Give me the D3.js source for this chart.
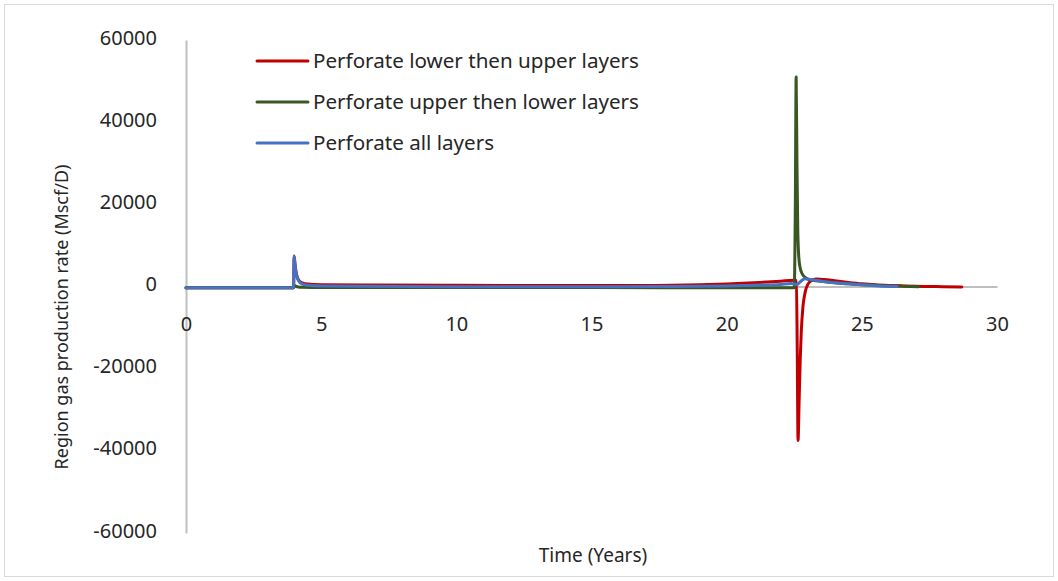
<!DOCTYPE html>
<html>
<head>
<meta charset="utf-8">
<script src="https://cdn.jsdelivr.net/npm/d3@7"></script>
<style>
  html, body { margin: 0; padding: 0; background: #fff; }
  svg { display: block; font-family: "Noto Sans", "Open Sans", sans-serif; }
</style>
</head>
<body>
<svg id="chart" width="1058" height="581"></svg>
<script>
// ---- data ----
const seriesNames = ["Perforate lower then upper layers", "Perforate upper then lower layers", "Perforate all layers"];
const seriesColors = ["#c00000", "#385723", "#4472c4"];

const lowerThenUpperT = [0, 3.98, 4.0, 4.03, 4.07, 4.12, 4.2, 4.3, 4.5, 5, 7, 10, 13, 16, 18, 19, 20, 21, 22, 22.5, 22.58, 22.61, 22.64, 22.68, 22.72, 22.76, 22.82, 22.9, 23.0, 23.15, 23.35, 23.6, 24, 24.5, 25, 25.5, 26, 26.5, 27, 27.5, 28, 28.7];
const lowerThenUpperV = [-300, -300, 7400, 5600, 3600, 2200, 1300, 900, 600, 450, 350, 300, 250, 250, 300, 400, 600, 900, 1300, 1500, 1400, -15000, -37500, -28000, -18000, -11000, -5000, -1500, 500, 1500, 1800, 1700, 1400, 1000, 650, 400, 250, 150, 50, 0, -50, -100];

const upperThenLowerT = [0, 3.98, 4.0, 4.05, 4.15, 4.3, 5, 10, 15, 20, 22, 22.5, 22.54, 22.57, 22.6, 22.63, 22.67, 22.72, 22.8, 22.95, 23.1, 23.3, 23.6, 24, 24.5, 25, 25.5, 26, 26.5, 27.1];
const upperThenLowerV = [-300, -300, 300, 100, -100, -200, -250, -250, -250, -300, -300, -300, 20000, 51000, 30000, 14000, 7000, 4500, 3000, 2000, 1600, 1400, 1200, 900, 650, 450, 300, 150, 50, -50];

const allLayersT = [0, 3.98, 4.0, 4.03, 4.07, 4.12, 4.2, 4.3, 4.5, 5, 8, 12, 16, 18, 20, 21, 22, 22.4, 22.5, 22.6, 22.7, 22.8, 22.9, 23.0, 23.2, 23.5, 24, 24.5, 25, 25.5, 26, 26.3];
const allLayersV = [-300, -300, 7300, 5400, 3300, 2000, 1100, 600, 300, 100, 0, -50, -50, 0, 150, 300, 500, 700, 600, 500, 1000, 1600, 1900, 1800, 1600, 1300, 900, 650, 400, 200, 50, 0];

const xTicks = [0, 5, 10, 15, 20, 25, 30];
const yTicks = [-60000, -40000, -20000, 0, 20000, 40000, 60000];
const xTitle = "Time (Years)";
const yTitle = "Region gas production rate (Mscf/D)";

// ---- build ----
const series = [
  { name: seriesNames[0], color: seriesColors[0], pts: lowerThenUpperT.map((t, i) => ({ t, v: lowerThenUpperV[i] })) },
  { name: seriesNames[1], color: seriesColors[1], pts: upperThenLowerT.map((t, i) => ({ t, v: upperThenLowerV[i] })) },
  { name: seriesNames[2], color: seriesColors[2], pts: allLayersT.map((t, i) => ({ t, v: allLayersV[i] })) }
];

const svg = d3.select("#chart");

// chart frame
svg.append("rect")
  .attr("x", 4.5).attr("y", 4.5).attr("width", 1049).attr("height", 572)
  .attr("fill", "#fff").attr("stroke", "#d9d9d9").attr("stroke-width", 1);

const x = d3.scaleLinear().domain([0, 30]).range([186, 997]);
const y = d3.scaleLinear().domain([-60000, 60000]).range([533, 40]);

const axisColor = "#bfbfbf";
const textColor = "#262626";
const fmt = d => String(d);

// y axis
const gy = svg.append("g").attr("transform", `translate(${x(0)},0)`)
  .call(d3.axisLeft(y).tickValues(yTicks).tickSize(0).tickSizeOuter(0).tickPadding(29).tickFormat(fmt));
gy.select(".domain").attr("stroke", axisColor).attr("stroke-width", 2);
gy.selectAll("text").attr("font-size", 20).attr("fill", textColor).attr("dy", "0.2em")
  .attr("font-family", "'Noto Sans', sans-serif");

// x axis
const gx = svg.append("g").attr("transform", `translate(0,${y(0)})`)
  .call(d3.axisBottom(x).tickValues(xTicks).tickSize(0).tickSizeOuter(0).tickPadding(30).tickFormat(fmt));
gx.select(".domain").attr("stroke", axisColor).attr("stroke-width", 2);
gx.selectAll("text").attr("font-size", 20).attr("fill", textColor)
  .attr("font-family", "'Noto Sans', sans-serif");

// lines
const line = d3.line().x(d => x(d.t)).y(d => y(d.v)).curve(d3.curveMonotoneX);
svg.append("g").selectAll("path").data(series).join("path")
  .attr("d", d => line(d.pts))
  .attr("fill", "none")
  .attr("stroke", d => d.color)
  .attr("stroke-width", 3)
  .attr("stroke-linejoin", "round")
  .attr("stroke-linecap", "round");

// axis titles
svg.append("text")
  .attr("x", 593).attr("y", 562)
  .attr("text-anchor", "middle")
  .attr("font-size", 19).attr("fill", textColor)
  .text(xTitle);

svg.append("text")
  .attr("transform", "translate(68,317) rotate(-90)")
  .attr("text-anchor", "middle")
  .attr("font-size", 18).attr("fill", textColor)
  .text(yTitle);

// legend
const legend = svg.append("g");
const legendY = [61, 102, 143];
series.forEach((s, i) => {
  legend.append("line")
    .attr("x1", 257).attr("x2", 308)
    .attr("y1", legendY[i]).attr("y2", legendY[i])
    .attr("stroke", s.color).attr("stroke-width", 3).attr("stroke-linecap", "round");
  legend.append("text")
    .attr("x", 313).attr("y", legendY[i])
    .attr("dy", "0.35em")
    .attr("font-size", 20.6).attr("fill", textColor)
    .text(s.name);
});
</script>
</body>
</html>
